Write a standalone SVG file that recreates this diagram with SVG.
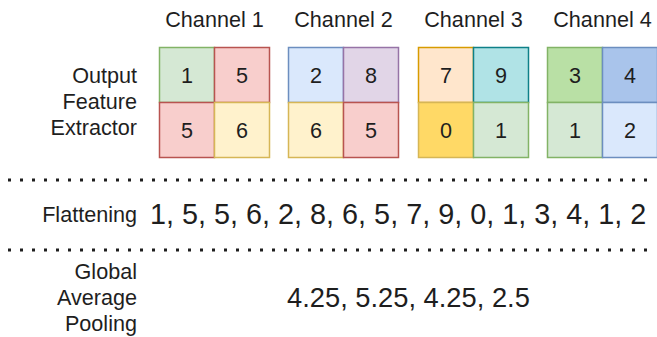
<svg xmlns="http://www.w3.org/2000/svg" width="657" height="337" viewBox="0 0 657 337">
<style>
text{font-family:"Liberation Sans",Arial,sans-serif;fill:#1e1e1e}
.lbl{font-size:21.6px}
.end{text-anchor:end}
.mid{text-anchor:middle}
.big{font-size:28.8px}
.big2{font-size:27.3px}
.cell rect{stroke-width:1.5}
.dots{stroke:#1e1e1e;stroke-width:3;stroke-dasharray:3 9;fill:none}
.g{fill:#d5e8d4;stroke:#82b366}
.r{fill:#f8cecc;stroke:#b85450}
.y{fill:#fff2cc;stroke:#d6b656}
.b{fill:#dae8fc;stroke:#6c8ebf}
.p{fill:#e1d5e7;stroke:#9673a6}
.o{fill:#ffe6cc;stroke:#d79b00}
.t{fill:#b0e3e6;stroke:#0e8088}
.gy{fill:#ffd966;stroke:#d6b656}
.g2{fill:#b9e0a5;stroke:#82b366}
.b2{fill:#a9c4eb;stroke:#6c8ebf}
</style>
<rect width="657" height="337" fill="#ffffff"/>
<g id="label-output">
<text class="lbl end" x="137" y="83">Output</text>
<text class="lbl end" x="137" y="109">Feature</text>
<text class="lbl end" x="137" y="135">Extractor</text>
</g>
<g id="channel1" class="cell">
<text class="lbl mid" x="214.5" y="27">Channel 1</text>
<rect class="g" x="159.5" y="47.5" width="55" height="55"/>
<rect class="r" x="214.5" y="47.5" width="55" height="55"/>
<rect class="r" x="159.5" y="102.5" width="55" height="55"/>
<rect class="y" x="214.5" y="102.5" width="55" height="55"/>
<text class="lbl mid" x="187" y="82.5">1</text>
<text class="lbl mid" x="242" y="82.5">5</text>
<text class="lbl mid" x="187" y="137.5">5</text>
<text class="lbl mid" x="242" y="137.5">6</text>
</g>
<g id="channel2" class="cell">
<text class="lbl mid" x="343.5" y="27">Channel 2</text>
<rect class="b" x="288.5" y="47.5" width="55" height="55"/>
<rect class="p" x="343.5" y="47.5" width="55" height="55"/>
<rect class="y" x="288.5" y="102.5" width="55" height="55"/>
<rect class="r" x="343.5" y="102.5" width="55" height="55"/>
<text class="lbl mid" x="316" y="82.5">2</text>
<text class="lbl mid" x="371" y="82.5">8</text>
<text class="lbl mid" x="316" y="137.5">6</text>
<text class="lbl mid" x="371" y="137.5">5</text>
</g>
<g id="channel3" class="cell">
<text class="lbl mid" x="473.5" y="27">Channel 3</text>
<rect class="o" x="418.5" y="47.5" width="55" height="55"/>
<rect class="t" x="473.5" y="47.5" width="55" height="55"/>
<rect class="gy" x="418.5" y="102.5" width="55" height="55"/>
<rect class="g" x="473.5" y="102.5" width="55" height="55"/>
<text class="lbl mid" x="446" y="82.5">7</text>
<text class="lbl mid" x="501" y="82.5">9</text>
<text class="lbl mid" x="446" y="137.5">0</text>
<text class="lbl mid" x="501" y="137.5">1</text>
</g>
<g id="channel4" class="cell">
<text class="lbl mid" x="602.5" y="27">Channel 4</text>
<rect class="g2" x="547.5" y="47.5" width="55" height="55"/>
<rect class="b2" x="602.5" y="47.5" width="55" height="55"/>
<rect class="g" x="547.5" y="102.5" width="55" height="55"/>
<rect class="b" x="602.5" y="102.5" width="55" height="55"/>
<text class="lbl mid" x="575" y="82.5">3</text>
<text class="lbl mid" x="630" y="82.5">4</text>
<text class="lbl mid" x="575" y="137.5">1</text>
<text class="lbl mid" x="630" y="137.5">2</text>
</g>
<g id="connectors">
<line class="dots" x1="8" y1="180" x2="655" y2="180"/>
<line class="dots" x1="8" y1="250" x2="655" y2="250"/>
</g>
<g id="flattening">
<text class="lbl end" x="137" y="222">Flattening</text>
<text class="big" x="150" y="224">1, 5, 5, 6, 2, 8, 6, 5, 7, 9, 0, 1, 3, 4, 1, 2</text>
</g>
<g id="pooling">
<text class="lbl end" x="137" y="279">Global</text>
<text class="lbl end" x="137" y="305">Average</text>
<text class="lbl end" x="137" y="331">Pooling</text>
<text class="big2" x="287" y="307">4.25, 5.25, 4.25, 2.5</text>
</g>
</svg>
